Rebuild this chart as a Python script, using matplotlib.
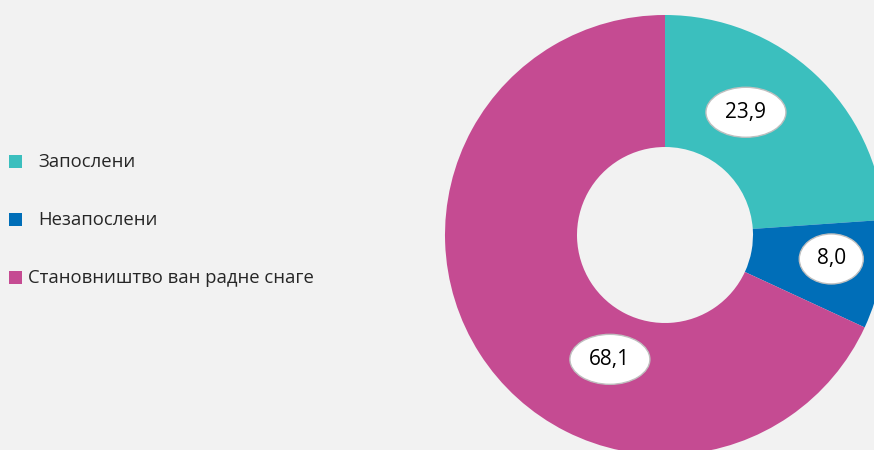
import numpy as np
import matplotlib.pyplot as plt
from matplotlib.patches import Ellipse

# ── Данни ──────────────────────────────────────────────
categories = ['Запослени', 'Незапослени', 'Становништво ван радне снаге']
values     = [23.9, 8.0, 68.1]
labels     = ['23,9', '8,0', '68,1']

# ── Стил ───────────────────────────────────────────────
BG     = '#F2F2F2'
colors = ['#3BBFBE', '#006EB8', '#C54B92']
FONT   = ['Open Sans', 'DejaVu Sans']

# geometry in pixel units
CX, CY = 665, 450 - 235
R_OUT, R_IN = 220, 88
lbl_ang = [56.6, -8.2, 246.1]     # label placement (deg)
lbl_rad = [147, 168, 136]
lbl_w   = [80, 64, 80]

fig = plt.figure(figsize=(8.74, 4.5), dpi=100, facecolor=BG)
ax = fig.add_axes([0, 0, 1, 1])
ax.set_facecolor(BG)

ax.pie(values, colors=colors, startangle=90, counterclock=False,
       center=(CX, CY), radius=R_OUT, frame=True,
       wedgeprops=dict(width=R_OUT - R_IN, linewidth=0))
ax.set_xlim(0, 874); ax.set_ylim(0, 450)
ax.set_aspect('equal'); ax.axis('off')

for txt, a, r, w in zip(labels, lbl_ang, lbl_rad, lbl_w):
    x = CX + r * np.cos(np.radians(a))
    y = CY + r * np.sin(np.radians(a))
    ax.add_patch(Ellipse((x, y), w, 50, facecolor='white',
                         edgecolor='#BFBFBF', lw=1.0, zorder=5))
    ax.text(x, y, txt, ha='center', va='center', fontsize=15,
            family=FONT, color='black', zorder=6)

# ── Легенда ────────────────────────────────────────────
leg_y  = [450 - 161, 450 - 219, 450 - 277]
leg_tx = [38, 38, 28]
for cat, col, y, tx in zip(categories, colors, leg_y, leg_tx):
    ax.add_patch(plt.Rectangle((9, y - 6.5), 13, 13, facecolor=col, lw=0))
    ax.text(tx, y - 1, cat, ha='left', va='center', fontsize=13.3,
            family=FONT, color='#262626')

fig.savefig('out.png', dpi=100, facecolor=BG)
